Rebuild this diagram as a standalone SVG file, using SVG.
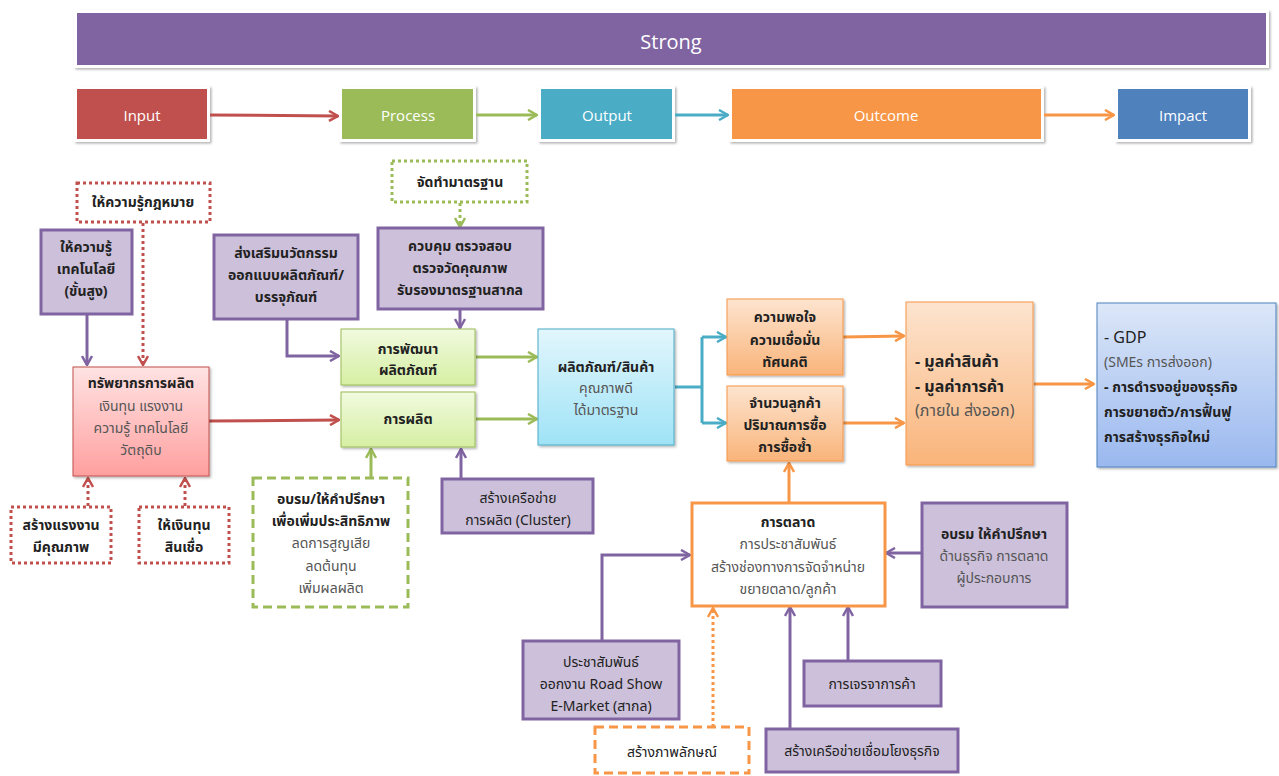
<svg xmlns="http://www.w3.org/2000/svg" width="1279" height="776" viewBox="0 0 1279 776">
<defs>
<linearGradient id="gPink" x1="0" y1="0" x2="0" y2="1"><stop offset="0" stop-color="#FFE3E3"/><stop offset="1" stop-color="#FF9F9F"/></linearGradient>
<linearGradient id="gGreen" x1="0" y1="0" x2="0" y2="1"><stop offset="0" stop-color="#F1FADF"/><stop offset="1" stop-color="#D6EFA3"/></linearGradient>
<linearGradient id="gCyan" x1="0" y1="0" x2="0" y2="1"><stop offset="0" stop-color="#E2F6FC"/><stop offset="1" stop-color="#9FE3F7"/></linearGradient>
<linearGradient id="gOrange" x1="0" y1="0" x2="0" y2="1"><stop offset="0" stop-color="#FDE4CF"/><stop offset="1" stop-color="#F9B47A"/></linearGradient>
<linearGradient id="gBlue" x1="0" y1="0" x2="0" y2="1"><stop offset="0" stop-color="#DCE7F8"/><stop offset="1" stop-color="#9AB8EF"/></linearGradient>
<filter id="sh" x="-10%" y="-10%" width="130%" height="130%"><feDropShadow dx="1.5" dy="1.5" stdDeviation="1.2" flood-color="#000" flood-opacity="0.3"/></filter>
<marker id="aRed" viewBox="0 0 12 12" refX="11" refY="6" markerWidth="12" markerHeight="12" markerUnits="userSpaceOnUse" orient="auto"><path d="M2,1 L11,6 L2,11" fill="none" stroke="#C0504D" stroke-width="2.5"/></marker>
<marker id="aGreen" viewBox="0 0 12 12" refX="11" refY="6" markerWidth="12" markerHeight="12" markerUnits="userSpaceOnUse" orient="auto"><path d="M2,1 L11,6 L2,11" fill="none" stroke="#9BBB59" stroke-width="2.5"/></marker>
<marker id="aCyan" viewBox="0 0 12 12" refX="11" refY="6" markerWidth="12" markerHeight="12" markerUnits="userSpaceOnUse" orient="auto"><path d="M2,1 L11,6 L2,11" fill="none" stroke="#4BACC6" stroke-width="2.5"/></marker>
<marker id="aOrange" viewBox="0 0 12 12" refX="11" refY="6" markerWidth="12" markerHeight="12" markerUnits="userSpaceOnUse" orient="auto"><path d="M2,1 L11,6 L2,11" fill="none" stroke="#F79646" stroke-width="2.5"/></marker>
<marker id="aPurple" viewBox="0 0 12 12" refX="11" refY="6" markerWidth="12" markerHeight="12" markerUnits="userSpaceOnUse" orient="auto"><path d="M2,1 L11,6 L2,11" fill="none" stroke="#8064A2" stroke-width="2.5"/></marker>
</defs>
<style>
text{font-family:Tahoma,"Noto Sans Thai","Loma","Garuda","DejaVu Sans",sans-serif;font-size:14px;fill:#222;text-anchor:middle}
.b{font-weight:bold}
.g{fill:#555}
.hdr{fill:#fff;font-size:15px;font-family:"Open Sans","Liberation Sans",sans-serif}
.title{fill:#fff;font-size:20px;font-family:"Open Sans","Liberation Sans",sans-serif}
.l{text-anchor:start}
.big{font-size:16px}
.pbox{fill:#CCC0DA;stroke:#8064A2;stroke-width:3}
.rdot{fill:#fff;stroke:#C0504D;stroke-width:3;stroke-dasharray:3 3}
.gdot{fill:#fff;stroke:#9BBB59;stroke-width:3;stroke-dasharray:3 3}
.gdash{fill:#fff;stroke:#9BBB59;stroke-width:3;stroke-dasharray:9 5}
.odash{fill:#fff;stroke:#F79646;stroke-width:3;stroke-dasharray:9 5}
.ln{fill:none;stroke-width:3}
.red{stroke:#C0504D}.grn{stroke:#9BBB59}.cyn{stroke:#4BACC6}.org{stroke:#F79646}.pur{stroke:#8064A2}
.dot{stroke-dasharray:3 3}
</style>

<g id="strong"><rect x="74" y="10" width="1195" height="58" fill="#fff" filter="url(#sh)"/><rect x="77" y="13" width="1189" height="52" fill="#8064A2"/><text class="title" x="671" y="49">Strong</text></g>

<g id="input"><rect x="74" y="86" width="136" height="56" fill="#fff" filter="url(#sh)"/><rect x="77" y="89" width="130" height="50" fill="#C0504D"/><text class="hdr" x="142" y="121">Input</text></g>
<g id="process"><rect x="339" y="86" width="137" height="56" fill="#fff" filter="url(#sh)"/><rect x="342" y="89" width="131" height="50" fill="#9BBB59"/><text class="hdr" x="408" y="121">Process</text></g>
<g id="output"><rect x="538" y="86" width="137" height="56" fill="#fff" filter="url(#sh)"/><rect x="541" y="89" width="131" height="50" fill="#4BACC6"/><text class="hdr" x="607" y="121">Output</text></g>
<g id="outcome"><rect x="729" y="86" width="315" height="56" fill="#fff" filter="url(#sh)"/><rect x="732" y="89" width="309" height="50" fill="#F79646"/><text class="hdr" x="886" y="121">Outcome</text></g>
<g id="impact"><rect x="1115" y="86" width="136" height="56" fill="#fff" filter="url(#sh)"/><rect x="1118" y="89" width="130" height="50" fill="#4F81BD"/><text class="hdr" x="1183" y="121">Impact</text></g>

<g id="connectors">
<path class="ln red" d="M210,115 L338,116" marker-end="url(#aRed)"/>
<path class="ln grn" d="M476,115 L537,115" marker-end="url(#aGreen)"/>
<path class="ln cyn" d="M675,115 L728,115" marker-end="url(#aCyan)"/>
<path class="ln org" d="M1044,115 L1114,115" marker-end="url(#aOrange)"/>

<path class="ln pur" d="M87,314 L87,365" marker-end="url(#aPurple)"/>
<path class="ln red dot" d="M143,223 L143,365" marker-end="url(#aRed)"/>
<path class="ln red dot" d="M88,506 L88,478" marker-end="url(#aRed)"/>
<path class="ln red dot" d="M185,506 L185,478" marker-end="url(#aRed)"/>
<path class="ln red" d="M209,421 L339,420" marker-end="url(#aRed)"/>
<path class="ln pur" d="M287,319 L287,356 L339,356" marker-end="url(#aPurple)"/>
<path class="ln grn dot" d="M460,203 L460,227" marker-end="url(#aGreen)"/>
<path class="ln pur" d="M460,309 L460,328" marker-end="url(#aPurple)"/>
<path class="ln grn" d="M476,357 L537,357" marker-end="url(#aGreen)"/>
<path class="ln grn" d="M476,419 L537,419" marker-end="url(#aGreen)"/>
<path class="ln grn" d="M371,478 L371,449" marker-end="url(#aGreen)"/>
<path class="ln pur" d="M461,478 L461,449" marker-end="url(#aPurple)"/>
<path class="ln cyn" d="M675,387 L702,387 M702,337 L702,423" />
<path class="ln cyn" d="M702,337 L726,337" marker-end="url(#aCyan)"/>
<path class="ln cyn" d="M702,423 L726,423" marker-end="url(#aCyan)"/>
<path class="ln org" d="M843,337 L904,336" marker-end="url(#aOrange)"/>
<path class="ln org" d="M843,423 L904,423" marker-end="url(#aOrange)"/>
<path class="ln org" d="M1034,384 L1094,384" marker-end="url(#aOrange)"/>
<path class="ln org" d="M789,503 L789,463" marker-end="url(#aOrange)"/>
<path class="ln pur" d="M922,553 L886,553" marker-end="url(#aPurple)"/>
<path class="ln pur" d="M602,641 L602,555 L690,555" marker-end="url(#aPurple)"/>
<path class="ln org dot" d="M713,727 L713,608" marker-end="url(#aOrange)"/>
<path class="ln pur" d="M790,729 L790,607" marker-end="url(#aPurple)"/>
<path class="ln pur" d="M848,661 L848,607" marker-end="url(#aPurple)"/>
</g>

<g id="law"><rect class="rdot" x="77" y="183" width="133" height="39"/><text class="b" x="143" y="207">ให้ความรู้กฎหมาย</text></g>
<g id="tech"><rect class="pbox" x="41" y="230" width="91" height="84"/><text class="b" x="86" y="252">ให้ความรู้</text><text class="b" x="86" y="274">เทคโนโลยี</text><text class="b" x="86" y="296">(ขั้นสูง)</text></g>
<g id="innov"><rect class="pbox" x="214" y="235" width="144" height="84"/><text class="b" x="286" y="258">ส่งเสริมนวัตกรรม</text><text class="b" x="286" y="280">ออกแบบผลิตภัณฑ์/</text><text class="b" x="286" y="302">บรรจุภัณฑ์</text></g>
<g id="resource"><rect x="73" y="367" width="136" height="109" fill="url(#gPink)" stroke="#C0504D" stroke-width="1" filter="url(#sh)"/><text class="b" x="141" y="388">ทรัพยากรการผลิต</text><text class="g" x="141" y="411">เงินทุน แรงงาน</text><text class="g" x="141" y="433">ความรู้ เทคโนโลยี</text><text class="g" x="141" y="455">วัตถุดิบ</text></g>
<g id="labor"><rect class="rdot" x="11" y="507" width="100" height="56"/><text class="b" x="61" y="530">สร้างแรงงาน</text><text class="b" x="61" y="552">มีคุณภาพ</text></g>
<g id="fund"><rect class="rdot" x="139" y="507" width="90" height="56"/><text class="b" x="184" y="530">ให้เงินทุน</text><text class="b" x="184" y="552">สินเชื่อ</text></g>

<g id="standard"><rect class="gdot" x="392" y="161" width="135" height="41"/><text class="b" x="460" y="187">จัดทำมาตรฐาน</text></g>
<g id="control"><rect class="pbox" x="378" y="228" width="165" height="81"/><text class="b" x="460" y="251">ควบคุม ตรวจสอบ</text><text class="b" x="460" y="273">ตรวจวัดคุณภาพ</text><text class="b" x="460" y="295">รับรองมาตรฐานสากล</text></g>
<g id="develop"><rect x="341" y="329" width="134" height="56" fill="url(#gGreen)" stroke="#9BBB59" stroke-width="1" filter="url(#sh)"/><text class="b" x="408" y="354">การพัฒนา</text><text class="b" x="408" y="375">ผลิตภัณฑ์</text></g>
<g id="produce"><rect x="341" y="392" width="134" height="55" fill="url(#gGreen)" stroke="#9BBB59" stroke-width="1" filter="url(#sh)"/><text class="b" x="408" y="424">การผลิต</text></g>
<g id="train"><rect class="gdash" x="253" y="478" width="155" height="129"/><text class="b" x="331" y="504">อบรม/ให้คำปรึกษา</text><text class="b" x="331" y="526">เพื่อเพิ่มประสิทธิภาพ</text><text class="g" x="331" y="548">ลดการสูญเสีย</text><text class="g" x="331" y="571">ลดต้นทุน</text><text class="g" x="331" y="593">เพิ่มผลผลิต</text></g>
<g id="cluster"><rect class="pbox" x="442" y="479" width="151" height="54"/><text x="518" y="503">สร้างเครือข่าย</text><text x="518" y="525">การผลิต (Cluster)</text></g>

<g id="product"><rect x="538" y="329" width="136" height="116" fill="url(#gCyan)" stroke="#4BACC6" stroke-width="1" filter="url(#sh)"/><text class="b" x="606" y="372">ผลิตภัณฑ์/สินค้า</text><text class="g" x="606" y="393">คุณภาพดี</text><text class="g" x="606" y="415">ได้มาตรฐาน</text></g>

<g id="satisfy"><rect x="727" y="299" width="116" height="76" fill="url(#gOrange)" stroke="#F79646" stroke-width="1" filter="url(#sh)"/><text class="b" x="785" y="322">ความพอใจ</text><text class="b" x="785" y="345">ความเชื่อมั่น</text><text class="b" x="785" y="367">ทัศนคติ</text></g>
<g id="customers"><rect x="727" y="386" width="116" height="75" fill="url(#gOrange)" stroke="#F79646" stroke-width="1" filter="url(#sh)"/><text class="b" x="785" y="408">จำนวนลูกค้า</text><text class="b" x="785" y="430">ปริมาณการซื้อ</text><text class="b" x="785" y="452">การซื้อซ้ำ</text></g>
<g id="value"><rect x="906" y="302" width="127" height="163" fill="url(#gOrange)" stroke="#F79646" stroke-width="1" filter="url(#sh)"/><text class="b l big" x="915" y="367">- มูลค่าสินค้า</text><text class="b l big" x="915" y="392">- มูลค่าการค้า</text><text class="g l big" x="915" y="416">(ภายใน ส่งออก)</text></g>
<g id="gdp"><rect x="1097" y="303" width="179" height="164" fill="url(#gBlue)" stroke="#4F81BD" stroke-width="1" filter="url(#sh)"/><text class="l big" x="1104" y="343">- GDP</text><text class="g l" x="1104" y="367">(SMEs การส่งออก)</text><text class="b l" x="1104" y="392">- การดำรงอยู่ของธุรกิจ</text><text class="b l" x="1104" y="417">การขยายตัว/การฟื้นฟู</text><text class="b l" x="1104" y="442">การสร้างธุรกิจใหม่</text></g>

<g id="marketing"><rect x="692" y="503" width="193" height="103" fill="#fff" stroke="#F79646" stroke-width="3"/><text class="b" x="788" y="527">การตลาด</text><text class="g" x="788" y="549">การประชาสัมพันธ์</text><text class="g" x="788" y="572">สร้างช่องทางการจัดจำหน่าย</text><text class="g" x="788" y="594">ขยายตลาด/ลูกค้า</text></g>
<g id="bizTrain"><rect class="pbox" x="922" y="503" width="145" height="104"/><text class="b" x="994" y="539">อบรม ให้คำปรึกษา</text><text class="g" x="994" y="561">ด้านธุรกิจ การตลาด</text><text class="g" x="994" y="583">ผู้ประกอบการ</text></g>
<g id="pr"><rect class="pbox" x="523" y="641" width="156" height="78"/><text x="601" y="667">ประชาสัมพันธ์</text><text x="601" y="689">ออกงาน Road Show</text><text x="601" y="711">E-Market (สากล)</text></g>
<g id="image"><rect class="odash" x="595" y="727" width="154" height="46"/><text x="672" y="757">สร้างภาพลักษณ์</text></g>
<g id="negotiate"><rect class="pbox" x="804" y="661" width="137" height="45"/><text x="872" y="689">การเจรจาการค้า</text></g>
<g id="network"><rect class="pbox" x="766" y="729" width="192" height="43"/><text x="862" y="756">สร้างเครือข่ายเชื่อมโยงธุรกิจ</text></g>
</svg>
